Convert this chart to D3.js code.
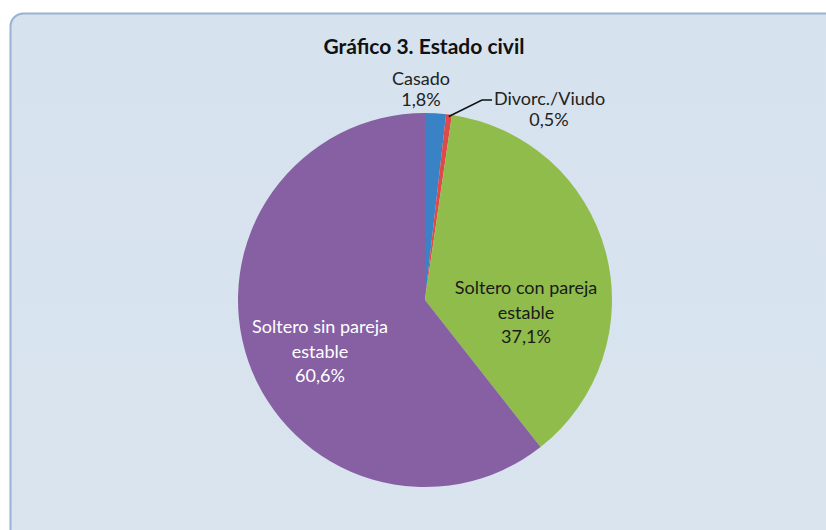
<!DOCTYPE html>
<html>
<head>
<meta charset="utf-8">
<script src="https://cdnjs.cloudflare.com/ajax/libs/d3/7.8.5/d3.min.js"></script>
<style>
  body { margin: 0; background: #ffffff; }
  svg { display: block; font-family: Lato, "Open Sans", sans-serif; }
</style>
</head>
<body>
<div id="chart"></div>
<script>
// chart values
const categories = ['Casado', 'Divorc./Viudo', 'Soltero con pareja estable', 'Soltero sin pareja estable'];
const values = [1.8, 0.5, 37.1, 60.6];
const valueLabels = ['1,8%', '0,5%', '37,1%', '60,6%'];
const labelLines = [['Casado'], ['Divorc./Viudo'], ['Soltero con pareja', 'estable'], ['Soltero sin pareja', 'estable']];
const colors = ['#3a82c6', '#de4a47', '#8fbc4b', '#8660a3'];

const W = 826, H = 530;
const cx = 425, cy = 300, r = 187;
const labelSize = 18;

const svg = d3.select('#chart').append('svg')
  .attr('width', W)
  .attr('height', H);

// background panel with rounded corners
const defs = svg.append('defs');
const grad = defs.append('linearGradient').attr('id', 'bg').attr('x1', 0).attr('y1', 0).attr('x2', 0).attr('y2', 1);
grad.append('stop').attr('offset', '0%').attr('stop-color', '#d6e2ee');
grad.append('stop').attr('offset', '100%').attr('stop-color', '#d9e4ee');

svg.append('rect')
  .attr('x', 10.5).attr('y', 13.5)
  .attr('width', 830).attr('height', 540)
  .attr('rx', 13).attr('ry', 13)
  .attr('fill', 'url(#bg)')
  .attr('stroke', '#98b2d1')
  .attr('stroke-width', 2);

// title
svg.append('text')
  .attr('x', 424).attr('y', 54)
  .attr('text-anchor', 'middle')
  .attr('font-size', 21)
  .attr('font-weight', 'bold')
  .attr('fill', '#111')
  .text('Gráfico 3. Estado civil');

const data = categories.map((c, i) => ({ name: c, value: values[i], label: valueLabels[i], lines: labelLines[i], color: colors[i] }));

const pie = d3.pie().sort(null).value(d => d.value);
const arc = d3.arc().innerRadius(0).outerRadius(r);
const arcs = pie(data);

const g = svg.append('g').attr('transform', `translate(${cx},${cy})`);

g.selectAll('path.slice')
  .data(arcs)
  .enter()
  .append('path')
  .attr('class', 'slice')
  .attr('d', arc)
  .attr('fill', d => d.data.color);

// inside labels for the two big slices
const insidePos = [null, null, [101, -6], [-105, 33]];
const insideColor = [null, null, '#1a1a1a', '#ffffff'];

arcs.forEach((a, i) => {
  if (!insidePos[i]) return;
  const t = g.append('text')
    .attr('text-anchor', 'middle')
    .attr('font-size', labelSize)
    .attr('fill', insideColor[i]);
  const lines = a.data.lines.concat([a.data.label]);
  lines.forEach((ln, k) => {
    t.append('tspan')
      .attr('x', insidePos[i][0])
      .attr('y', insidePos[i][1] + k * 24.5)
      .text(ln);
  });
});

// Casado label above the pie
const casado = svg.append('text')
  .attr('text-anchor', 'middle')
  .attr('font-size', labelSize)
  .attr('fill', '#222');
casado.append('tspan').attr('x', 421).attr('y', 85).text(data[0].lines[0]);
casado.append('tspan').attr('x', 421).attr('y', 106).text(data[0].label);

// Divorc./Viudo label with leader line
const small = arcs[1];
const mid = (small.startAngle + small.endAngle) / 2;
const px = cx + Math.sin(mid) * (r - 2);
const py = cy - Math.cos(mid) * (r - 2);
svg.append('polyline')
  .attr('points', `${px},${py} 482,100 492,100`)
  .attr('fill', 'none')
  .attr('stroke', '#111')
  .attr('stroke-width', 1.5);

const div = svg.append('text')
  .attr('font-size', labelSize)
  .attr('fill', '#222');
div.append('tspan').attr('x', 494).attr('y', 105).text(data[1].lines[0]);
div.append('tspan').attr('x', 549).attr('y', 126).attr('text-anchor', 'middle').text(data[1].label);
</script>
</body>
</html>
